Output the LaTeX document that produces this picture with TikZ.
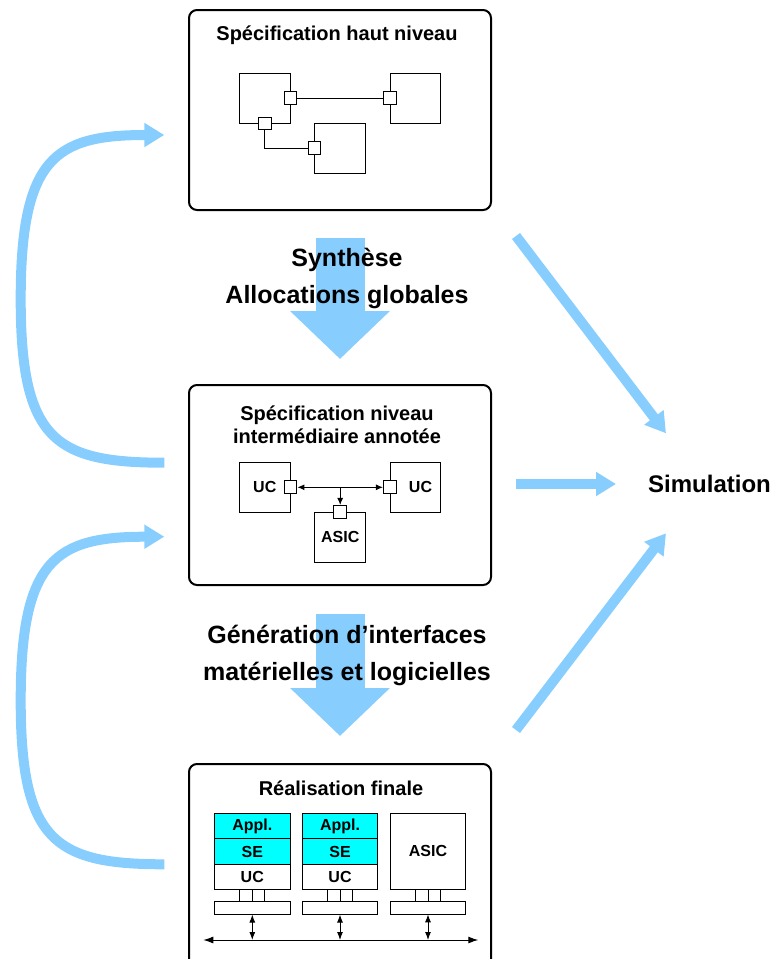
\documentclass[tikz,border=0pt]{standalone}
\usepackage{fontspec}
\setmainfont{Liberation Sans}
\usetikzlibrary{arrows.meta,positioning,calc}
\definecolor{bleuclair}{RGB}{135,206,255}
\definecolor{logiciel}{RGB}{0,255,255}
\tikzstyle{etape}=[draw,
                   line width=2pt,
                   rounded corners=8pt,
                   minimum width=302pt,
                   minimum height=200pt]
\tikzstyle{titre}=[font=\fontsize{20}{23.5}\selectfont\bfseries,align=center]
\tikzstyle{bloc}=[draw,
                  line width=1pt,
                  minimum width=50.5pt,
                  minimum height=50pt,
                  inner sep=0pt,
                  font=\fontsize{16}{19}\selectfont\bfseries]
\tikzstyle{port}=[draw,fill=white,line width=1pt,minimum size=12.7pt,inner sep=0pt]
\tikzstyle{couche}=[draw,
                    line width=1pt,
                    outer sep=0pt,
                    inner sep=0pt,
                    minimum width=75.5pt,
                    minimum height=25.3pt,
                    font=\fontsize{16}{19}\selectfont\bfseries]
\tikzstyle{lien}=[line width=1pt]
\tikzstyle{bidir}=[line width=1pt,{Latex[length=8pt,width=6pt]}-{Latex[length=8pt,width=6pt]}]
\tikzstyle{retour}=[line width=10pt,draw=bleuclair,-{Triangle[length=20pt,width=23pt]}]
\tikzstyle{descente}=[line width=49pt,draw=bleuclair,-{Triangle[length=48pt,width=97pt]}]
\tikzstyle{legende}=[font=\fontsize{25}{37}\selectfont\bfseries,align=center]

\begin{document}
\begin{tikzpicture}[x=1pt,y=-1pt]
    \useasboundingbox (0,0) rectangle (776,959);

    % les trois niveaux
    \node[etape] (haut) at (340,110) {};
    \node[etape] (inter) at (340,485) {};
    \node[etape,minimum height=210pt] (final) at (340,869) {};
    \node[titre] (thaut) at (337,35) {Sp\'ecification haut niveau};
    \node[titre] (tinter) at (337,425) {Sp\'ecification niveau\\ interm\'ediaire annot\'ee};
    \node[titre] (tfinal) at (341,788) {R\'ealisation finale};

    % specification haut niveau
    \node[bloc] (ma) at (264.8,98) {};
    \node[bloc] (mb) at (415.5,98) {};
    \node[bloc] (mc) at (340.2,148.3) {};
    \node[port] (pa) at (ma.east) {};
    \node[port] (pb) at (mb.west) {};
    \node[port] (pa2) at (ma.south) {};
    \node[port] (pc) at (mc.west) {};
    \draw[lien] (pa) -- (pb);
    \draw[lien] (pa2) |- (pc);

    % niveau intermediaire
    \node[bloc] (ucg) at (264.8,487.3) {UC\hspace{10pt}};
    \node[bloc] (ucd) at (415.5,487.3) {\hspace{10pt}UC};
    \node[bloc] (asic) at (340.2,537.3) {\raisebox{-6pt}{ASIC}};
    \node[port] (pg) at (ucg.east) {};
    \node[port] (pd) at (ucd.west) {};
    \node[port] (pasic) at (asic.north) {};
    \draw[line width=1pt,{Latex[length=7pt,width=6pt]}-{Latex[length=7pt,width=6pt]}] (pg) -- (pd);
    \draw[lien,-{Latex[length=7pt,width=6pt]}] (pasic.north |- pg) -- (pasic.north);

    % realisation finale
    \foreach \x/\n in {252.3/1,340/2} {
        \node[couche,fill=logiciel] (appl\n) at (\x,826.3) {Appl.};
        \node[couche,fill=logiciel,below=0pt of appl\n] (se\n) {SE};
        \node[couche,below=0pt of se\n] (cpu\n) {UC};
        \node[couche,minimum width=24.7pt,minimum height=12.4pt,below=0pt of cpu\n] (broche\n) {};
        \draw[lien] (broche\n.north) -- (broche\n.south);
        \node[couche,minimum height=12.6pt,below=0pt of broche\n] (barre\n) {};
    }
    \node[couche,minimum height=76pt] (asicf) at (428,851.3) {ASIC};
    \node[couche,minimum width=24.7pt,minimum height=12.4pt,below=0pt of asicf] (broche3) {};
    \draw[lien] (broche3.north) -- (broche3.south);
    \node[couche,minimum height=12.6pt,below=0pt of broche3] (barre3) {};
    \coordinate (busg) at (203.3,940);
    \coordinate (busd) at (478.3,940);
    \draw[line width=1pt,{Latex[length=10pt,width=7pt]}-{Latex[length=10pt,width=7pt]}] (busg) -- (busd);
    \foreach \n in {1,2,3}
        \draw[bidir] (barre\n.south) -- (barre\n.south |- busg);

    % grosses fleches
    \draw[descente] ([yshift=-27pt]haut.south) -- ([yshift=25pt]inter.north);
    \draw[descente] ([yshift=-28pt]inter.south) -- ([yshift=27pt]final.north);
    \node[legende] (synth) at (347,278) {Synth\`ese\\ Allocations globales};
    \node[legende] (gener) at (347,655) {G\'en\'eration d'interfaces\\ mat\'erielles et logicielles};

    % retours
    \coordinate (r1a) at (164.3,462.7);
    \coordinate (r1b) at (164.3,135);
    \coordinate (r2a) at (164.3,864.3);
    \coordinate (r2b) at (164.3,536.7);
    \draw[retour] (r1a) .. controls (55,462.7) and (20.7,440) .. (20.7,299) .. controls (20.7,158) and (55,135) .. (r1b);
    \draw[retour] (r2a) .. controls (55,864.3) and (20.7,841) .. (20.7,700.5) .. controls (20.7,560) and (55,536.7) .. (r2b);

    % simulation
    \node[anchor=west,font=\fontsize{24}{28}\selectfont\bfseries,inner sep=0pt] (simu) at (648,483.5) {Simulation};
    \coordinate (s1) at (516,236);
    \coordinate (s2) at (516,484);
    \coordinate (s3) at (516,730);
    \coordinate (e1) at (666,433.3);
    \coordinate (e2) at (616,484);
    \coordinate (e3) at (666,533.3);
    \draw[retour] (s1) -- (e1);
    \draw[retour] (s2) -- (e2);
    \draw[retour] (s3) -- (e3);
\end{tikzpicture}
\end{document}
